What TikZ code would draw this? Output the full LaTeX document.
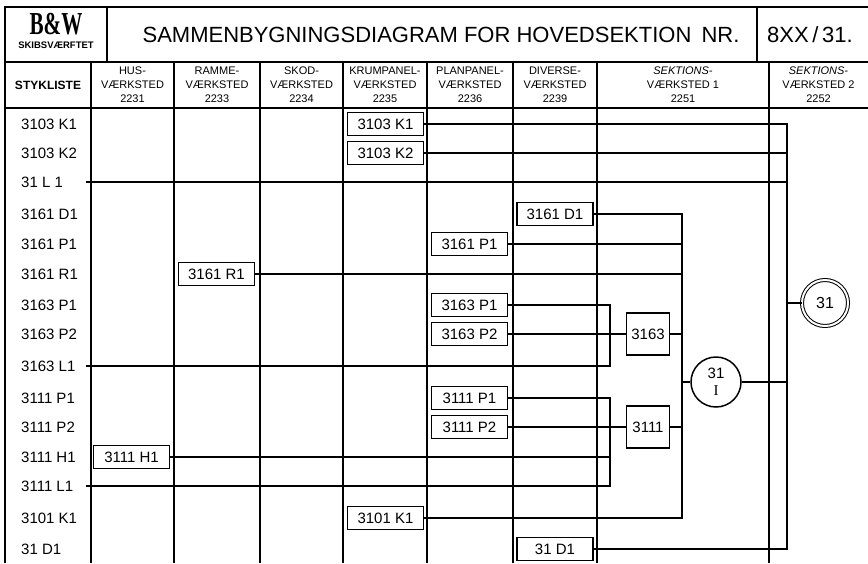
\documentclass[tikz,border=0pt]{standalone}
\usepackage{fontspec}
\setmainfont{Liberation Sans}
\newfontfamily\logofont{Liberation Serif}
\begin{document}
\begin{tikzpicture}[x=1pt,y=-1pt]

		\tikzset{part/.style = {draw, line width=1.6pt, minimum width=76pt, minimum height=23pt, inner sep=0pt, font=\fontsize{15}{15}\selectfont}}
		\tikzset{sect/.style = {draw, line width=1.6pt, minimum width=43pt, minimum height=42pt, inner sep=0pt, font=\fontsize{15}{15}\selectfont}}
		\tikzset{row/.style = {anchor=west, inner sep=0pt, font=\fontsize{15}{15}\selectfont}}
		\tikzset{head/.style = {align=center, inner sep=0pt, font=\fontsize{11}{14}\selectfont}}
		\tikzset{grid/.style = {line width=1.5pt}}
		\tikzset{frame/.style = {line width=2.4pt}}
		\tikzset{edge/.style = {line width=1.4pt}}
		\useasboundingbox (0,0) rectangle (868,563);
		%frame
		\draw[frame] (868,7) -- (5,7) -- (5,563);
		\draw[frame] (5,62) -- (868,62);
		\draw[frame] (5,108) -- (868,108);
		\draw[grid] (107,7) -- (107,62);
		\draw[grid] (757,7) -- (757,62);
		\foreach \x in {91,174,260,343,427,513,597,769}
			\draw[grid] (\x,62) -- (\x,563);
		%title
		\node (logo) at (56,24) {\fontsize{32}{32}\selectfont\logofont\bfseries\scalebox{0.66}[1]{B\&W}};
		\node (yard) at (56,45.5) {\fontsize{9.5}{9.5}\selectfont\bfseries SKIBSVÆRFTET};
		\node (title) at (441,35) {\fontsize{22}{22}\selectfont SAMMENBYGNINGSDIAGRAM FOR HOVEDSEKTION\hspace{4pt} NR.};
		\node (drawno) at (810,35) {\fontsize{22}{22}\selectfont 8XX\,/\,31.};
		%column heads
		\node[head, font=\fontsize{12}{14}\selectfont\bfseries] (h0) at (48,85) {STYKLISTE};
		\node[head] (h1) at (132.5,85) {HUS-\\VÆRKSTED\\2231};
		\node[head] (h2) at (217,85) {RAMME-\\VÆRKSTED\\2233};
		\node[head] (h3) at (301.5,85) {SKOD-\\VÆRKSTED\\2234};
		\node[head] (h4) at (385,85) {KRUMPANEL-\\VÆRKSTED\\2235};
		\node[head] (h5) at (470,85) {PLANPANEL-\\VÆRKSTED\\2236};
		\node[head] (h6) at (555,85) {DIVERSE-\\VÆRKSTED\\2239};
		\node[head] (h7) at (683,85) {\itshape SEKTIONS-\\VÆRKSTED 1\\2251};
		\node[head] (h8) at (818.5,85) {\itshape SEKTIONS-\\VÆRKSTED 2\\2252};
		%parts list
		\node[row] (r3103K1) at (21,124) {3103 K1};
		\node[row] (r3103K2) at (21,153) {3103 K2};
		\node[row] (r31L1) at (21,182) {31 L 1};
		\node[row] (r3161D1) at (21,214) {3161 D1};
		\node[row] (r3161P1) at (21,244) {3161 P1};
		\node[row] (r3161R1) at (21,274) {3161 R1};
		\node[row] (r3163P1) at (21,305) {3163 P1};
		\node[row] (r3163P2) at (21,334) {3163 P2};
		\node[row] (r3163L1) at (21,366) {3163 L1};
		\node[row] (r3111P1) at (21,398) {3111 P1};
		\node[row] (r3111P2) at (21,427) {3111 P2};
		\node[row] (r3111H1) at (21,457) {3111 H1};
		\node[row] (r3111L1) at (21,486) {3111 L1};
		\node[row] (r3101K1) at (21,518) {3101 K1};
		\node[row] (r31D1) at (21,549) {31 D1};
		%parts
		\node[part] (b3103K1) at (385.5,124) {3103 K1};
		\node[part] (b3103K2) at (385.5,153) {3103 K2};
		\node[part] (b3161D1) at (555,214) {3161 D1};
		\node[part] (b3161P1) at (469.5,244) {3161 P1};
		\node[part] (b3161R1) at (216.5,274) {3161 R1};
		\node[part] (b3163P1) at (469.5,305) {3163 P1};
		\node[part] (b3163P2) at (469.5,334) {3163 P2};
		\node[part] (b3111P1) at (469.5,398) {3111 P1};
		\node[part] (b3111P2) at (469.5,427) {3111 P2};
		\node[part] (b3111H1) at (131.5,457) {3111 H1};
		\node[part] (b3101K1) at (385.5,518) {3101 K1};
		\node[part] (b31D1) at (555,549) {31 D1};
		%sections
		\node[sect] (b3163) at (648,334) {3163};
		\node[sect] (b3111) at (648,427) {3111};
		\node[draw, circle, line width=1.5pt, minimum size=50pt, inner sep=0pt, align=center, font=\fontsize{15}{17}\selectfont] (c31I) at (716,382) {31\\{\logofont I}};
		\node[draw, circle, double, double distance=2pt, line width=1pt, minimum size=46pt, inner sep=0pt, font=\fontsize{16}{16}\selectfont] (c31) at (825,303) {31};
		%buses
		\coordinate (lft) at (86,0);
		\coordinate (busP) at (610,0);
		\coordinate (busS) at (682,0);
		\coordinate (busH) at (787,0);
		%edges
		\draw[edge] (b3103K1) -- (b3103K1 -| busH) -- (b31D1 -| busH) -- (b31D1);
		\draw[edge] (b3103K2) -- (b3103K2 -| busH);
		\draw[edge] (r31L1 -| lft) -- (r31L1 -| busH);
		\draw[edge] (c31) -- (c31 -| busH);
		\draw[edge] (c31I) -- (c31I -| busH);
		\draw[edge] (b3161D1) -- (b3161D1 -| busS) -- (b3101K1 -| busS) -- (b3101K1);
		\draw[edge] (b3161P1) -- (b3161P1 -| busS);
		\draw[edge] (b3161R1) -- (b3161R1 -| busS);
		\draw[edge] (b3163) -- (b3163 -| busS);
		\draw[edge] (b3111) -- (b3111 -| busS);
		\draw[edge] (c31I -| busS) -- (c31I);
		\draw[edge] (b3163P1) -- (b3163P1 -| busP) -- (r3163L1 -| busP) -- (r3163L1 -| lft);
		\draw[edge] (b3163P2) -- (b3163);
		\draw[edge] (b3111P1) -- (b3111P1 -| busP) -- (r3111L1 -| busP) -- (r3111L1 -| lft);
		\draw[edge] (b3111P2) -- (b3111);
		\draw[edge] (b3111H1) -- (b3111H1 -| busP);
\end{tikzpicture}
\end{document}
